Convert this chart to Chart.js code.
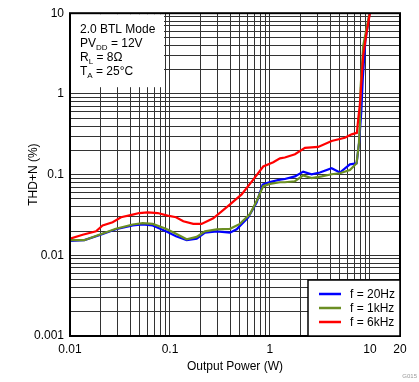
<!DOCTYPE html>
<html><head><meta charset="utf-8">
<script src="https://cdn.jsdelivr.net/npm/chart.js@4/dist/chart.umd.min.js"></script>
<style>html,body{margin:0;padding:0;background:#fff}#wrap{width:419px;height:382px}</style>
</head><body><div id="wrap"><canvas id="c" width="419" height="382"></canvas></div>
<script>
// ---- data ----
const seriesLabels = ['f = 20Hz', 'f = 1kHz', 'f = 6kHz'];
const seriesColors = ['#0000FF', '#6B8E23', '#FF0000'];

const power20Hz = [0.01,0.0139,0.0196,0.0288,0.0424,0.0533,0.0671,0.0912,0.115,0.147,0.185,0.224,0.293,0.398,0.465,0.607,0.736,0.845,1.0,1.26,1.41,1.78,2.15,2.61,3.16,4.14,5.01,6.31,7.36,7.8,8.2,8.5,9.0,9.9];
const thd20Hz   = [0.0151,0.0154,0.0177,0.0210,0.0234,0.0241,0.0234,0.0198,0.0172,0.0154,0.0161,0.0191,0.0198,0.0191,0.0210,0.0296,0.0450,0.0752,0.0811,0.0865,0.0881,0.0951,0.109,0.101,0.106,0.120,0.106,0.134,0.138,0.25,0.6,1.6,4.5,9.8];

const power1kHz = [0.01,0.0139,0.0196,0.0288,0.0424,0.0533,0.0671,0.0912,0.115,0.147,0.185,0.224,0.293,0.398,0.501,0.631,0.736,0.857,1.0,1.26,1.41,1.78,2.15,2.61,3.29,4.14,5.01,6.31,7.36,7.76,7.94,8.07,8.57,9.84];
const thd1kHz   = [0.0154,0.0154,0.0180,0.0213,0.0241,0.0250,0.0245,0.0213,0.0185,0.0158,0.0169,0.0198,0.0210,0.0213,0.0245,0.0324,0.0472,0.0719,0.0766,0.0804,0.0804,0.0827,0.0977,0.0906,0.0951,0.101,0.104,0.114,0.138,0.242,0.423,1.19,3.97,9.6];

const power6kHz = [0.01,0.0134,0.0182,0.0212,0.0267,0.0324,0.0424,0.0493,0.0598,0.0753,0.0948,0.115,0.136,0.171,0.207,0.271,0.383,0.521,0.681,0.857,1.08,1.26,1.41,1.78,2.24,3.04,4.14,5.62,6.56,7.41,7.64,7.94,8.26,8.57,9.27,10];
const thd6kHz   = [0.0161,0.0180,0.0198,0.0234,0.0257,0.0296,0.0319,0.0334,0.0340,0.0334,0.0310,0.0296,0.0264,0.0245,0.0245,0.0288,0.0410,0.0568,0.0865,0.126,0.142,0.159,0.163,0.179,0.214,0.220,0.261,0.286,0.315,0.329,0.486,0.74,1.56,3.0,5.76,10];

const xTickValues = [0.01,0.02,0.03,0.04,0.05,0.06,0.07,0.08,0.09,0.1,0.2,0.3,0.4,0.5,0.6,0.7,0.8,0.9,1,2,3,4,5,6,7,8,9,10,20];
const xTickLabels = ['0.01','0.1','1','10','20'];
const yTickValues = [0.001,0.002,0.003,0.004,0.005,0.006,0.007,0.008,0.009,0.01,0.02,0.03,0.04,0.05,0.06,0.07,0.08,0.09,0.1,0.2,0.3,0.4,0.5,0.6,0.7,0.8,0.9,1,2,3,4,5,6,7,8,9,10];
const yTickLabels = ['0.001','0.01','0.1','1','10'];

// ---- chart ----
const FONT = '"Liberation Sans", Arial, sans-serif';
function pts(xs, ys) { return xs.map((x, i) => ({x: x, y: ys[i]})); }
function labelFor(list, v) {
  const i = list.findIndex(l => Math.abs(Number(l) - v) < 1e-9 * Math.max(1, v) );
  return i >= 0 ? list[i] : '';
}

const overlay = {
  id: 'overlay',
  beforeDatasetsDraw(chart) {
    const {ctx, chartArea: a} = chart;
    ctx.save();
    ctx.fillStyle = '#fff';
    ctx.fillRect(a.left + 1, a.top + 1, 93, 73);
    ctx.restore();
  },
  afterDatasetsDraw(chart) {
    const {ctx, chartArea: a} = chart;
    ctx.save();
    ctx.strokeStyle = '#000';
    ctx.lineWidth = 2;
    ctx.strokeRect(a.left, a.top, a.right - a.left, a.bottom - a.top);

    // condition text
    ctx.fillStyle = '#000';
    ctx.textBaseline = 'alphabetic';
    ctx.textAlign = 'left';
    const big = '12px ' + FONT, small = '8px ' + FONT;
    function line(parts, x, y) {
      for (const [t, s] of parts) {
        ctx.font = s ? small : big;
        ctx.fillText(t, x, s ? y + 3 : y);
        x += ctx.measureText(t).width;
      }
    }
    const tx = a.left + 10;
    line([['2.0 BTL Mode', 0]], tx, a.top + 19.5);
    line([['PV', 0], ['DD', 1], [' = 12V', 0]], tx, a.top + 33.5);
    line([['R', 0], ['L', 1], [' = 8\u03A9', 0]], tx, a.top + 47.5);
    line([['T', 0], ['A', 1], [' = 25\u00B0C', 0]], tx, a.top + 61.5);

    // legend
    const lx = a.right - 92, ly = a.bottom - 56;
    ctx.fillStyle = '#fff';
    ctx.fillRect(lx, ly, a.right - lx, a.bottom - ly);
    ctx.strokeStyle = '#000';
    ctx.lineWidth = 1.5;
    ctx.strokeRect(lx, ly, a.right - lx, a.bottom - ly);
    ctx.font = big;
    ctx.textBaseline = 'middle';
    chart.data.datasets.forEach((ds, i) => {
      const y = ly + 14 + i * 14;
      ctx.strokeStyle = ds.borderColor;
      ctx.lineWidth = 2.5;
      ctx.beginPath();
      ctx.moveTo(lx + 11, y);
      ctx.lineTo(lx + 33, y);
      ctx.stroke();
      ctx.fillStyle = '#000';
      ctx.fillText(ds.label, lx + 42, y + 1);
    });

    // figure id
    ctx.fillStyle = '#999';
    ctx.font = '6px ' + FONT;
    ctx.textAlign = 'right';
    ctx.textBaseline = 'alphabetic';
    ctx.fillText('G015', chart.width - 2, chart.height - 4);
    ctx.restore();
  }
};

const ticksFont = {family: FONT, size: 12};
new Chart(document.getElementById('c'), {
  type: 'scatter',
  data: {
    datasets: [
      {label: seriesLabels[0], data: pts(power20Hz, thd20Hz), borderColor: seriesColors[0], order: 3},
      {label: seriesLabels[1], data: pts(power1kHz, thd1kHz), borderColor: seriesColors[1], order: 2},
      {label: seriesLabels[2], data: pts(power6kHz, thd6kHz), borderColor: seriesColors[2], order: 1}
    ].map(d => Object.assign(d, {showLine: true, pointRadius: 0, borderWidth: 2.2, fill: false, tension: 0, backgroundColor: d.borderColor}))
  },
  options: {
    responsive: false,
    animation: false,
    devicePixelRatio: 1,
    layout: {padding: {top: 7, right: 19, left: 0, bottom: 0}},
    plugins: {legend: {display: false}, tooltip: {enabled: false}},
    scales: {
      x: {
        type: 'logarithmic', min: 0.01, max: 20, position: 'bottom',
        afterBuildTicks: s => { s.ticks = xTickValues.map(v => ({value: v})); },
        afterFit: s => { s.height = 46; },
        ticks: {autoSkip: false, maxRotation: 0, padding: 6, color: '#000', font: ticksFont,
                callback: v => labelFor(xTickLabels, v)},
        grid: {color: '#333', lineWidth: 1, drawTicks: false},
        border: {display: false},
        title: {display: true, text: 'Output Power (W)', color: '#000', font: ticksFont, padding: {top: 0, bottom: 8}}
      },
      y: {
        type: 'logarithmic', min: 0.001, max: 10, position: 'left',
        afterBuildTicks: s => { s.ticks = yTickValues.map(v => ({value: v})); },
        afterFit: s => { s.width = 70; },
        ticks: {autoSkip: false, padding: 6, color: '#000', font: ticksFont,
                callback: v => labelFor(yTickLabels, v)},
        grid: {color: '#333', lineWidth: 1, drawTicks: false},
        border: {display: false},
        title: {display: true, text: 'THD+N (%)', color: '#000', font: ticksFont, padding: {top: 26, bottom: 0}}
      }
    }
  },
  plugins: [overlay]
});
</script>
</body></html>
